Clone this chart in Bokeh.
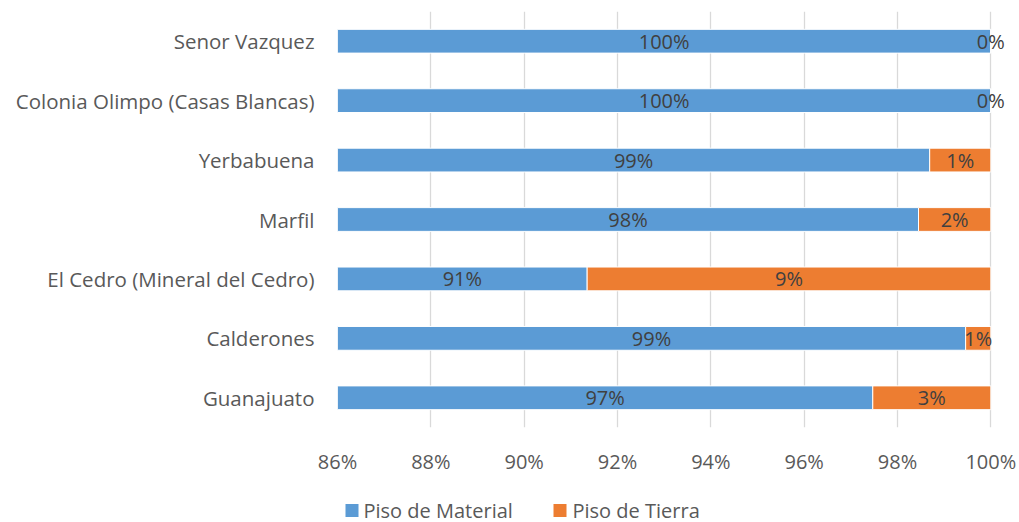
from bokeh.plotting import figure
from bokeh.layouts import column
from bokeh.models import ColumnDataSource, FixedTicker, PrintfTickFormatter
from bokeh.core.properties import value
from bokeh.embed import file_html
from bokeh.resources import INLINE

categories = ["Senor Vazquez", "Colonia Olimpo (Casas Blancas)", "Yerbabuena", "Marfil",
              "El Cedro (Mineral del Cedro)", "Calderones", "Guanajuato"]
piso_material = [100.0, 100.0, 98.69, 98.45, 91.35, 99.46, 97.47]
piso_tierra = [0.0, 0.0, 1.31, 1.55, 8.65, 0.54, 2.53]
series_names = ["Piso de Material", "Piso de Tierra"]
tick_values = [86, 88, 90, 92, 94, 96, 98, 100]

BLUE = "#5B9BD5"
ORANGE = "#ED7D31"
FONT = "Open Sans"
x_min, x_view_max = 86, 100.4   # a little room right of 100% so the "0%" labels are not clipped
W = 1019
H_MAIN = 478
FRAME_L, FRAME_R = 337, 1009

src = ColumnDataSource(dict(
    cat=categories,
    mat=piso_material,
    tie=piso_tierra,
    tot=[m + t for m, t in zip(piso_material, piso_tierra)],
    mat_lbl=[f"{round(m)}%" for m in piso_material],
    tie_lbl=[f"{round(t)}%" for t in piso_tierra],
    mat_x=[(x_min + m) / 2 for m in piso_material],
    tie_x=[m + t / 2 for m, t in zip(piso_material, piso_tierra)],
))

p = figure(width=W, height=H_MAIN, y_range=list(reversed(categories)),
           x_range=(x_min, x_view_max), output_backend="svg", toolbar_location=None,
           min_border_left=FRAME_L, min_border_right=W - FRAME_R, min_border_top=11,
           min_border_bottom=51)

p.hbar(y="cat", left=0, right="mat", height=0.4, source=src,
       fill_color=BLUE, line_color="white", line_width=1)
p.hbar(y="cat", left="mat", right="tot", height=0.4, source=src,
       fill_color=ORANGE, line_color="white", line_width=1)

p.text(x="mat_x", y="cat", text="mat_lbl", source=src, text_align="center",
       text_baseline="middle", text_font=value(FONT), text_font_size="20px", text_color="#404040")
p.text(x="tie_x", y="cat", text="tie_lbl", source=src, text_align="center",
       text_baseline="middle", text_font=value(FONT), text_font_size="20px", text_color="#404040")

p.outline_line_color = None
p.ygrid.grid_line_color = None
p.xgrid.grid_line_color = "#D9D9D9"
p.xgrid.grid_line_width = 1.3
p.xaxis.ticker = FixedTicker(ticks=tick_values)
p.xaxis.formatter = PrintfTickFormatter(format="%d%%")
for ax in (p.xaxis, p.yaxis):
    ax.axis_line_color = None
    ax.major_tick_line_color = None
    ax.minor_tick_line_color = None
    ax.major_tick_out = 0
    ax.major_tick_in = 0
    ax.major_label_text_font = FONT
    ax.major_label_text_color = "#595959"
p.xaxis.major_label_text_font_size = "20px"
p.yaxis.major_label_text_font_size = "20.5px"
p.xaxis.major_label_standoff = 20
p.yaxis.major_label_standoff = 23

# legend strip below the chart (its frame is aligned with the chart's frame,
# so its x range is expressed in page pixels)
LH = 522 - H_MAIN
leg = figure(width=W, height=LH, x_range=(FRAME_L, FRAME_R), y_range=(LH, 0),
             output_backend="svg", toolbar_location=None,
             min_border_left=FRAME_L, min_border_right=W - FRAME_R,
             min_border_top=0, min_border_bottom=0)
leg.axis.visible = False
leg.grid.grid_line_color = None
leg.outline_line_color = None
leg_src = ColumnDataSource(dict(
    name=series_names,
    color=[BLUE, ORANGE],
    gx=[351.5, 559.5],
    tx=[363, 572],
    y=[LH - 12, LH - 12],
))
leg.rect(x="gx", y="y", width=13, height=13, width_units="screen", height_units="screen",
         fill_color="color", line_color=None, source=leg_src)
leg.text(x="tx", y="y", text="name", source=leg_src, text_align="left", text_baseline="middle",
         text_font=value(FONT), text_font_size="20px", text_color="#595959")

layout = column(p, leg, spacing=0)
open("out.html", "w").write(file_html(layout, INLINE))
